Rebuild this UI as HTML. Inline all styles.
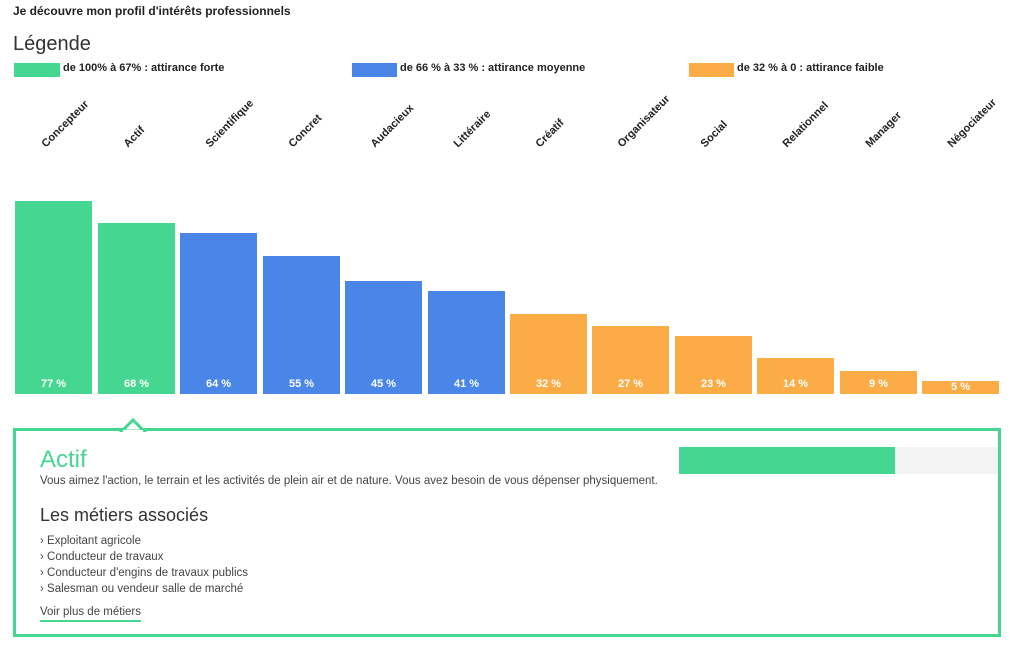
<!DOCTYPE html>
<html><head><meta charset="utf-8"><style>
body{margin:0;width:1024px;height:648px;background:#fff;font-family:"Liberation Sans",sans-serif;color:#333;position:relative;overflow:hidden}
.a{position:absolute;white-space:nowrap}
.bar{position:absolute;width:77px;bottom:254px}
.bar span{position:absolute;bottom:4px;left:0;right:0;text-align:center;color:#fff;font-weight:bold;font-size:11px}
.g{background:#45d691}.b{background:#4a86e8}.o{background:#fbac47}
.lab{position:absolute;top:138px;font-size:11px;font-weight:bold;color:#222;transform:rotate(-45deg);transform-origin:0 100%;line-height:12px}
.t{font-size:11.5px;color:#444}
</style></head><body>
<div class="a" style="left:13px;top:4px;font-size:12px;font-weight:bold;color:#222">Je découvre mon profil d'intérêts professionnels</div>
<div class="a" style="left:13px;top:33px;font-size:20px;color:#333">Légende</div>
<div class="a g" style="left:14px;top:63px;width:46px;height:14px"></div>
<div class="a" style="left:63px;top:62px;font-size:11px;font-weight:bold;color:#222">de 100% à 67% : attirance forte</div>
<div class="a b" style="left:352px;top:63px;width:45px;height:14px"></div>
<div class="a" style="left:400px;top:62px;font-size:11px;font-weight:bold;color:#222">de 66 % à 33 % : attirance moyenne</div>
<div class="a o" style="left:689px;top:63px;width:45px;height:14px"></div>
<div class="a" style="left:737px;top:62px;font-size:11px;font-weight:bold;color:#222">de 32 % à 0 : attirance faible</div>

<div class="lab" style="left:48px">Concepteur</div>
<div class="lab" style="left:130px">Actif</div>
<div class="lab" style="left:212px">Scientifique</div>
<div class="lab" style="left:295px">Concret</div>
<div class="lab" style="left:377px">Audacieux</div>
<div class="lab" style="left:460px">Littéraire</div>
<div class="lab" style="left:542px">Créatif</div>
<div class="lab" style="left:624px">Organisateur</div>
<div class="lab" style="left:707px">Social</div>
<div class="lab" style="left:789px">Relationnel</div>
<div class="lab" style="left:872px">Manager</div>
<div class="lab" style="left:954px">Négociateur</div>

<div class="bar g" style="left:15px;height:193px"><span>77 %</span></div>
<div class="bar g" style="left:98px;height:171px"><span>68 %</span></div>
<div class="bar b" style="left:180px;height:161px"><span>64 %</span></div>
<div class="bar b" style="left:263px;height:138px"><span>55 %</span></div>
<div class="bar b" style="left:345px;height:113px"><span>45 %</span></div>
<div class="bar b" style="left:428px;height:103px"><span>41 %</span></div>
<div class="bar o" style="left:510px;height:80px"><span>32 %</span></div>
<div class="bar o" style="left:592px;height:68px"><span>27 %</span></div>
<div class="bar o" style="left:675px;height:58px"><span>23 %</span></div>
<div class="bar o" style="left:757px;height:36px"><span>14 %</span></div>
<div class="bar o" style="left:840px;height:23px"><span>9 %</span></div>
<div class="bar o" style="left:922px;height:13px"><span style="bottom:1px">5 %</span></div>

<div class="a" style="left:13px;top:428px;width:982px;height:203px;border:3px solid #45d691"></div>
<svg class="a" style="left:118px;top:416px" width="32" height="16"><polygon points="4,15 15,4 26,15" fill="#fff" stroke="#45d691" stroke-width="3"/><rect x="5" y="14" width="20" height="2" fill="#fff"/></svg>
<div class="a" style="left:679px;top:447px;width:319px;height:27px;background:#f3f3f3"></div>
<div class="a g" style="left:679px;top:447px;width:216px;height:27px"></div>
<div class="a" style="left:40px;top:446px;font-size:24px;color:#45d691">Actif</div>
<div class="a t" style="left:40px;top:475px">Vous aimez l'action, le terrain et les activités de plein air et de nature. Vous avez besoin de vous dépenser physiquement.</div>
<div class="a" style="left:40px;top:505px;font-size:18px;color:#333">Les métiers associés</div>
<div class="a t" style="left:40px;top:533px;line-height:16px">› Exploitant agricole<br>› Conducteur de travaux<br>› Conducteur d'engins de travaux publics<br>› Salesman ou vendeur salle de marché</div>
<div class="a t" style="left:40px;top:606px;padding-bottom:2px;border-bottom:2px solid #45d691">Voir plus de métiers</div>
</body></html>
